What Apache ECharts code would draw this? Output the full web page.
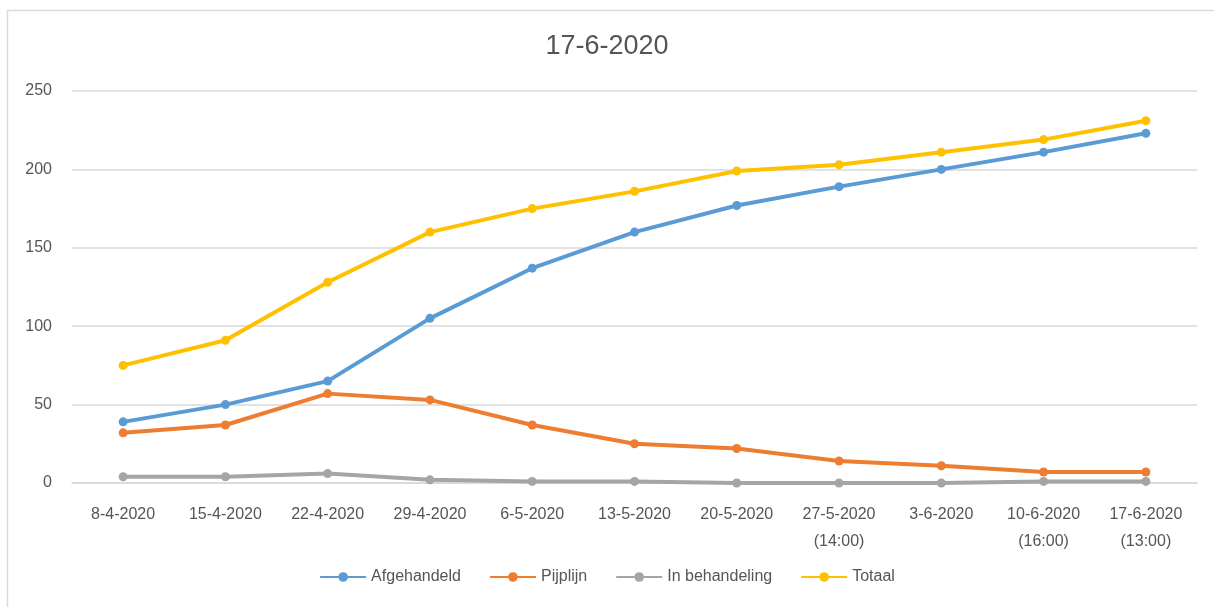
<!DOCTYPE html>
<html>
<head>
<meta charset="utf-8">
<script src="https://cdn.jsdelivr.net/npm/echarts@6/dist/echarts.min.js"></script>
<style>
html,body{margin:0;padding:0;background:#fff;}
#c{width:1214px;height:607px;}
</style>
</head>
<body>
<div id="c"></div>
<script>
const categories = ['8-4-2020','15-4-2020','22-4-2020','29-4-2020','6-5-2020','13-5-2020','20-5-2020','27-5-2020\n(14:00)','3-6-2020','10-6-2020\n(16:00)','17-6-2020\n(13:00)'];
const afgehandeld = [39, 50, 65, 105, 137, 160, 177, 189, 200, 211, 223];
const pijplijn = [32, 37, 57, 53, 37, 25, 22, 14, 11, 7, 7];
const inBehandeling = [4, 4, 6, 2, 1, 1, 0, 0, 0, 1, 1];
const totaal = [75, 91, 128, 160, 175, 186, 199, 203, 211, 219, 231];
const yTicks = {min: 0, max: 250, interval: 50};

const font = 'Liberation Sans';
const txt = '#555555';
function s(name, data, color) {
  return {
    name, type: 'line', data,
    symbol: 'circle', symbolSize: 9,
    lineStyle: {width: 4, color},
    itemStyle: {color},
    emphasis: {disabled: true}
  };
}
const chart = echarts.init(document.getElementById('c'));
chart.setOption({
  animation: false,
  backgroundColor: '#fff',
  textStyle: {fontFamily: font},
  title: {
    text: '17-6-2020', left: 'center', top: 28,
    textStyle: {fontFamily: font, fontSize: 27, fontWeight: 'normal', color: txt}
  },
  graphic: [{
    type: 'rect', shape: {x: 7.5, y: 10.5, width: 1230, height: 620},
    style: {fill: 'none', stroke: '#d9d9d9', lineWidth: 1.5}, silent: true
  }],
  legend: {
    bottom: 17, left: 'center', itemWidth: 46, itemHeight: 12, itemGap: 28,
    textStyle: {fontFamily: font, fontSize: 16, color: txt}
  },
  grid: {left: 72, right: 17, top: 91, bottom: 124},
  xAxis: {
    type: 'category', data: categories, boundaryGap: true,
    axisLine: {lineStyle: {color: '#d9d9d9', width: 1.5}},
    axisTick: {show: false},
    axisLabel: {color: txt, fontSize: 16, margin: 18, lineHeight: 27, interval: 0, fontFamily: font}
  },
  yAxis: {
    type: 'value', min: yTicks.min, max: yTicks.max, interval: yTicks.interval,
    axisLine: {show: false}, axisTick: {show: false},
    splitLine: {lineStyle: {color: '#d9d9d9', width: 1.5}},
    axisLabel: {color: txt, fontSize: 16, margin: 20, fontFamily: font}
  },
  series: [
    s('Afgehandeld', afgehandeld, '#5B9BD5'),
    s('Pijplijn', pijplijn, '#ED7D31'),
    s('In behandeling', inBehandeling, '#A5A5A5'),
    s('Totaal', totaal, '#FFC000')
  ]
});
</script>
</body>
</html>
